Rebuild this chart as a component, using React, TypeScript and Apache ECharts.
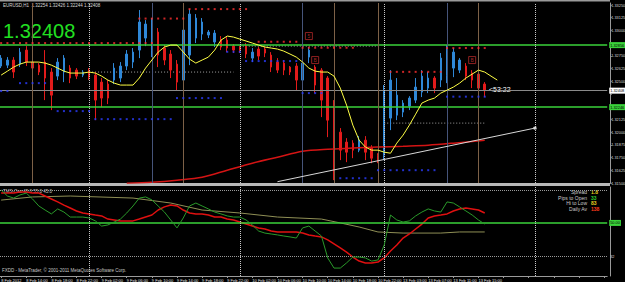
import React, { useEffect, useRef } from "react";
import * as echarts from "echarts";

// ---------- data ----------
const timeLabels = [
  "8 Feb 2012", "8 Feb 14:00", "8 Feb 18:00", "8 Feb 22:00", "9 Feb 02:00",
  "9 Feb 06:00", "9 Feb 10:00", "9 Feb 14:00", "9 Feb 18:00", "9 Feb 22:00",
  "10 Feb 02:00", "10 Feb 06:00", "10 Feb 10:00", "10 Feb 14:00", "10 Feb 18:00",
  "10 Feb 22:00", "13 Feb 03:00", "13 Feb 07:00", "13 Feb 11:00", "13 Feb 15:00",
];
const BAR_SLOTS = 97;

const opens = [
  1.3265, 1.32659, 1.32709, 1.32669, 1.32807, 1.32689, 1.32659, 1.32689, 1.32591, 1.32551,
  1.32591, 1.3263, 1.3261, 1.32561, 1.3261, 1.32561, 1.32492, 1.32473, 1.32512, 1.32532,
  1.3265, 1.32689, 1.32807, 1.32925, 1.32807, 1.32984, 1.32827, 1.32768, 1.32669, 1.32512,
  1.32758, 1.32925, 1.32964, 1.32955, 1.32886, 1.32905, 1.32905, 1.32846, 1.32837, 1.32846,
  1.32728, 1.32817, 1.32817, 1.32758, 1.32689, 1.32679, 1.3264, 1.3265, 1.32512, 1.32738,
  1.3264, 1.3261, 1.32532, 1.32266, 1.32, 1.31902, 1.31892, 1.31823, 1.31921, 1.31843,
  1.31774, 1.31774, 1.32138, 1.32167, 1.32197, 1.32256, 1.32315, 1.32394, 1.32433, 1.32532,
  1.32512, 1.32561, 1.3263, 1.3261, 1.3265, 1.32581, 1.32571, 1.32473,
];
const closes = [
  1.32728, 1.32709, 1.32591, 1.32787, 1.32689, 1.3263, 1.32591, 1.32532, 1.32364, 1.32689,
  1.32728, 1.32532, 1.32551, 1.32591, 1.32541, 1.32315, 1.32335, 1.32335, 1.3263, 1.3265,
  1.32768, 1.32787, 1.33083, 1.33063, 1.33083, 1.32758, 1.32709, 1.3261, 1.32492, 1.33004,
  1.33161, 1.33122, 1.33083, 1.32984, 1.32974, 1.32837, 1.32827, 1.32807, 1.32807, 1.32768,
  1.32787, 1.32748, 1.32778, 1.3264, 1.3261, 1.3261, 1.32591, 1.32512, 1.32679, 1.32807,
  1.32463, 1.32315, 1.32118, 1.31823, 1.31823, 1.31803, 1.31823, 1.31921, 1.31803, 1.31744,
  1.31725, 1.32413, 1.32512, 1.32364, 1.32286, 1.32335, 1.32443, 1.32551, 1.32532, 1.32433,
  1.32728, 1.32807, 1.32787, 1.32709, 1.32551, 1.32512, 1.32433, 1.32408,
];
const lows = [
  1.3263, 1.3263, 1.32532, 1.3264, 1.3265, 1.326, 1.32561, 1.32315, 1.32217, 1.32512,
  1.32492, 1.32482, 1.32522, 1.32541, 1.32512, 1.32118, 1.32246, 1.32276, 1.32473, 1.32492,
  1.3261, 1.3263, 1.32728, 1.32846, 1.32738, 1.3264, 1.32659, 1.32532, 1.32413, 1.32394,
  1.32659, 1.32876, 1.32905, 1.32925, 1.32837, 1.32807, 1.32787, 1.32778, 1.32778, 1.32728,
  1.32689, 1.32709, 1.32738, 1.32591, 1.32581, 1.32561, 1.32561, 1.32413, 1.32394, 1.32679,
  1.32384, 1.32148, 1.31951, 1.31528, 1.31725, 1.31705, 1.31744, 1.31803, 1.31725, 1.31695,
  1.31695, 1.31725, 1.3202, 1.32118, 1.32148, 1.32217, 1.32286, 1.32345, 1.32384, 1.32384,
  1.32443, 1.32482, 1.32541, 1.32581, 1.32512, 1.32433, 1.32315, 1.32345,
];
const highs = [
  1.32758, 1.32738, 1.32738, 1.32827, 1.32846, 1.32709, 1.32679, 1.32807, 1.3263, 1.32728,
  1.32758, 1.32659, 1.3263, 1.3261, 1.3263, 1.32591, 1.32532, 1.32512, 1.32679, 1.32689,
  1.32807, 1.32827, 1.33201, 1.33102, 1.33122, 1.33024, 1.32856, 1.32807, 1.32709, 1.33083,
  1.3321, 1.33161, 1.33122, 1.33004, 1.33004, 1.32945, 1.32935, 1.32866, 1.32846, 1.32876,
  1.32827, 1.32837, 1.32837, 1.32787, 1.32728, 1.32709, 1.3265, 1.32679, 1.32709, 1.32837,
  1.32659, 1.3263, 1.32551, 1.32315, 1.3204, 1.31941, 1.31921, 1.31961, 1.31961, 1.31872,
  1.31793, 1.32463, 1.3261, 1.32532, 1.32315, 1.32354, 1.32532, 1.3261, 1.32591, 1.32551,
  1.32778, 1.32856, 1.32827, 1.32728, 1.32679, 1.3261, 1.3261, 1.32492,
];

const yellowMA = [
  1.32561, 1.326, 1.3264, 1.32669, 1.32689, 1.32689, 1.32689, 1.32679, 1.32659, 1.3263,
  1.326, 1.32581, 1.32581, 1.32581, 1.32591, 1.32581, 1.32551, 1.32512, 1.32482, 1.32463,
  1.32463, 1.32463, 1.32532, 1.3263, 1.32709, 1.32787, 1.32837, 1.32856, 1.32856, 1.32787,
  1.32718, 1.32679, 1.32709, 1.32738, 1.32807, 1.32905, 1.32945, 1.32935, 1.32915, 1.32896,
  1.32876, 1.32856, 1.32837, 1.32827, 1.32817, 1.32797, 1.32768, 1.32738, 1.32689, 1.3263,
  1.326, 1.32591, 1.32591, 1.32551, 1.32433, 1.32266, 1.32069, 1.31921, 1.31853, 1.31823,
  1.31823, 1.31803, 1.31793, 1.31892, 1.31971, 1.32069, 1.32177, 1.32286, 1.32315, 1.32335,
  1.32384, 1.32413, 1.32443, 1.32482, 1.32532, 1.32571, 1.3261, 1.32591, 1.32551, 1.32512,
];
const redMA = [
  [20, 1.31498], [24, 1.31508], [28, 1.31528], [32, 1.31557], [36, 1.31626], [40, 1.31695],
  [44, 1.31754], [48, 1.31813], [52, 1.31833], [56, 1.31843], [60, 1.31853], [64, 1.31862],
  [68, 1.31872], [72, 1.31892], [77, 1.31921],
];
// [fromBar, toBar, price]
const resistanceDots = [
  [0, 24, 1.32876], [22, 29, 1.33117], [30, 39, 1.3321], [41, 47, 1.32889],
  [48, 56, 1.3283], [62, 70, 1.32593], [71, 77, 1.32827],
];
const supportDots = [
  [0, 1, 1.32404], [3, 7, 1.32482], [9, 14, 1.32207], [15, 27, 1.32128], [28, 35, 1.32335],
  [36, 38, 1.3279], [39, 47, 1.32699], [48, 51, 1.32384], [54, 59, 1.31547], [60, 69, 1.31626],
  [71, 77, 1.32349],
];
const dottedLevels = [[14, 37, 1.32591], [38, 60, 1.32846], [61, 77, 1.32089]];
const trendLine = [[44, 1.31513], [85, 1.3204]];
const greenLevels = [1.32856, 1.32246];
const bidPrice = 1.32408;
const periodSeparators = [14, 38, 61, 85];
const brownVerticals = [5, 29, 53, 60, 76];
const blueVerticals = [24, 48, 71];
const signalBoxes = [[49, 1.32945, "5"], [50, 1.32709, "B"], [75, 1.32709, "B"]];

const oscFast = [
  67.9, 64.6, 63.5, 65.2, 66.2, 63.0, 59.2, 57.0, 54.9, 57.6,
  55.9, 53.2, 53.2, 53.2, 52.7, 51.1, 48.3, 48.9, 50.5, 52.1,
  55.4, 59.2, 63.5, 64.1, 62.5, 59.2, 55.9, 51.6, 47.3, 52.7,
  59.2, 60.8, 59.2, 57.6, 55.9, 54.9, 53.8, 53.2, 53.2, 51.6,
  48.9, 45.6, 44.5, 44.0, 43.5, 42.9, 42.4, 41.8, 47.3, 48.3,
  45.6, 42.9, 31.0, 25.5, 25.5, 28.3, 31.5, 31.5, 31.0, 29.3,
  29.9, 38.0, 54.3, 51.6, 50.5, 51.1, 53.8, 55.9, 57.6, 56.5,
  55.9, 61.4, 60.8, 58.7, 56.5, 54.3, 51.6, 49.4,
];
const oscSlow = [
  66.2, 66.2, 66.2, 66.8, 66.8, 66.2, 66.2, 64.6, 63.0, 61.4,
  59.7, 58.1, 56.5, 55.4, 54.9, 54.3, 53.8, 52.1, 51.6, 51.1,
  51.1, 51.1, 52.1, 53.2, 54.3, 57.0, 58.7, 59.7, 59.2, 57.0,
  55.4, 54.9, 54.9, 54.3, 53.2, 53.2, 52.1, 51.6, 50.5, 49.4,
  48.3, 47.3, 46.7, 45.6, 45.1, 45.1, 45.1, 45.1, 44.5, 43.5,
  42.9, 42.4, 40.8, 38.6, 36.4, 34.2, 31.5, 29.3, 28.3, 28.3,
  28.8, 31.0, 34.8, 38.0, 41.8, 44.0, 46.7, 49.4, 52.7, 53.8,
  54.3, 54.9, 56.5, 57.6, 58.1, 57.6, 57.0, 55.4,
];
const oscSignal = [
  [0, 62.4], [5, 64.1], [11, 64.6], [21, 63.5], [27, 60.8], [32, 57.0], [38, 55.4],
  [44, 53.2], [51, 52.1], [54, 50.0], [57, 47.8], [60, 45.1], [64, 44.5], [70, 44.5],
  [73, 45.1], [77, 45.1],
];
const oscMax = 69.5;
const oscMin = 21.2;
const oscDotLevels = [68, 32];
const oscMidLevel = 50;

const infoRows = [
  ["Spread", "1.8", "#e8d020"],
  ["Pips to Open", "33", "#32cd32"],
  ["Hi to Low", "83", "#e8d020"],
  ["Daily Av", "138", "#ff3a1a"],
];

// ---------- styling ----------
const FONT = "'Liberation Sans', Arial, sans-serif";
const BULL = "#2f88d8";
const BEAR = "#e31b1b";
const AXIS_FS = 3.9;

const expand = (segs: number[][]) =>
  segs.flatMap(([a, b, p]) => Array.from({ length: b - a + 1 }, (_, k) => [a + k, p]));

function buildOption() {
  const cats = Array.from({ length: BAR_SLOTS }, (_, i) => String(i));
  const candleData = opens.map((o, i) => [o, closes[i], lows[i], highs[i]]);
  const boxedPrices = [...greenLevels, bidPrice];

  const vLine = (i: number, color: string, type: string) => ({
    xAxis: i,
    lineStyle: { color, width: 1, type },
    label: { show: false },
  });
  const boxLabel = (text: string, bg: string) => ({
    show: true, position: "end", distance: 2, formatter: text,
    backgroundColor: bg, color: "#000", fontSize: AXIS_FS, fontFamily: FONT, padding: [1, 1],
  });

  const mainMarkLines: any[] = [
    ...greenLevels.map((p) => ({
      yAxis: p,
      lineStyle: { color: "#3ad23a", width: 1.5, type: "solid" },
      label: boxLabel(p.toFixed(5), "#3ad23a"),
    })),
    {
      yAxis: bidPrice,
      lineStyle: { color: "#8a8a8a", width: 1, type: "solid" },
      label: boxLabel(bidPrice.toFixed(5), "#ffffff"),
    },
    ...periodSeparators.map((i) => vLine(i, "#c8c8c8", "dotted")),
    ...brownVerticals.map((i) => vLine(i, "#7d6147", "solid")),
    ...blueVerticals.map((i) => vLine(i, "#46547a", "solid")),
    [
      { coord: [trendLine[0][0], trendLine[0][1]], lineStyle: { color: "#d8d8d8", width: 1, type: "solid" }, label: { show: false } },
      { coord: [trendLine[1][0], trendLine[1][1]], symbol: "rect", symbolSize: 3 },
    ],
  ];

  const plainLabel = (text: string) => ({
    show: true, position: "end", distance: 3, formatter: text, color: "#d8d8d8", fontSize: AXIS_FS, fontFamily: FONT,
  });
  const oscMarkLines: any[] = [
    ...oscDotLevels.map((v) => ({
      yAxis: v,
      lineStyle: { color: "#9a9a9a", width: 1, type: "dotted" },
      label: v === 32 ? plainLabel("32") : { show: false },
    })),
    {
      yAxis: oscMidLevel,
      lineStyle: { color: "#3ad23a", width: 1.5, type: "solid" },
      label: boxLabel("50.00", "#3ad23a"),
    },
    // axis extremes written at the panel's top and bottom
    { yAxis: oscMax - 1.3, lineStyle: { opacity: 0 }, label: plainLabel(String(oscMax)) },
    { yAxis: oscMin + 1.6, lineStyle: { opacity: 0 }, label: plainLabel(String(oscMin)) },
    ...periodSeparators.map((i) => vLine(i, "#c8c8c8", "dotted")),
  ];

  const graphicTexts: any[] = [
    { type: "rect", shape: { x: 0, y: 0, width: 610, height: 1.5 }, style: { fill: "#9a9a9a" }, silent: true },
    { type: "rect", shape: { x: 0, y: 183, width: 610, height: 3 }, style: { fill: "#b8b8b8" }, silent: true },
    {
      type: "text", x: 3, y: 3,
      style: { text: "EURUSD,H1  1.32254 1.32426 1.32244 1.32408", fill: "#d8d8d8", fontSize: 4.5, fontFamily: FONT },
    },
    {
      type: "text", x: 3, y: 21,
      style: { text: "1.32408", fill: "#22e022", fontSize: 20, fontFamily: FONT },
    },
    {
      type: "text", x: 489, y: 86,
      style: { text: "<53:22", fill: "#ffffff", fontSize: 7, fontFamily: FONT },
    },
    {
      type: "text", x: 3, y: 189,
      style: { text: "TMS-Osc 45.0 55.0 45.0", fill: "#c8c8c8", fontSize: 4.5, fontFamily: FONT },
    },
    {
      type: "text", x: 2, y: 268,
      style: { text: "FXDD - MetaTrader, © 2001-2011 MetaQuotes Software Corp.", fill: "#c8c8c8", fontSize: 4.5, fontFamily: FONT },
    },
    ...infoRows.flatMap(([name, val, color], k) => [
      {
        type: "text", x: 587, y: 189.5 + k * 5.7,
        style: { text: name, fill: "#c8c8c8", fontSize: 5, fontFamily: FONT, align: "right" },
      },
      {
        type: "text", x: 591, y: 189.5 + k * 5.7,
        style: { text: val, fill: color, fontSize: 5, fontFamily: FONT, fontWeight: "bold" },
      },
    ]),
  ];

  return {
    animation: false,
    backgroundColor: "#000000",
    grid: [
      { left: -2, top: 3, width: 609.2, height: 180, outerBoundsMode: "none", containLabel: false },
      { left: -2, top: 187, width: 609.2, height: 89, outerBoundsMode: "none", containLabel: false },
    ],
    xAxis: [
      {
        type: "category", gridIndex: 0, data: cats, boundaryGap: true,
        axisLine: { show: false }, axisTick: { show: false }, axisLabel: { show: false }, splitLine: { show: false },
      },
      {
        type: "category", gridIndex: 1, data: cats, boundaryGap: true,
        axisLine: { show: true, lineStyle: { color: "#9a9a9a", width: 1 } },
        axisTick: { show: true, alignWithLabel: true, interval: (i: number) => i % 4 === 0, length: 2, lineStyle: { color: "#9a9a9a" } },
        axisLabel: {
          interval: (i: number) => i % 4 === 0,
          formatter: (_v: string, i: number) => timeLabels[i / 4] ?? "",
          color: "#e0e0e0", fontSize: 4, fontFamily: FONT, align: "left", margin: 2, hideOverlap: false,
        },
        splitLine: { show: false },
      },
    ],
    yAxis: [
      {
        type: "value", gridIndex: 0, position: "right", offset: 3,
        min: 1.315, max: 1.3327, interval: 0.00125,
        axisLine: { show: true, lineStyle: { color: "#9a9a9a" } },
        axisTick: { show: true, length: 1.5, lineStyle: { color: "#9a9a9a" } },
        axisLabel: {
          color: "#d8d8d8", fontSize: AXIS_FS, fontFamily: FONT, margin: 1, showMaxLabel: false,
          // the boxed level labels cover the scale labels next to them
          formatter: (v: number) => (boxedPrices.some((p) => Math.abs(p - v) < 0.0005) ? "" : v.toFixed(5)),
        },
        splitLine: { show: false },
      },
      {
        type: "value", gridIndex: 1, position: "right", offset: 3,
        min: oscMin, max: oscMax,
        axisLine: { show: true, lineStyle: { color: "#9a9a9a" } },
        axisTick: { show: false }, axisLabel: { show: false }, splitLine: { show: false },
      },
    ],
    series: [
      ...dottedLevels.map(([a, b, p]) => ({
        type: "line", xAxisIndex: 0, yAxisIndex: 0, data: [[a, p], [b, p]], showSymbol: false, silent: true,
        lineStyle: { color: "#a0a0a0", width: 1, type: [1, 2] }, z: 2,
      })),
      {
        type: "candlestick", xAxisIndex: 0, yAxisIndex: 0, data: candleData, barWidth: 2,
        itemStyle: { color: BULL, color0: BEAR, borderColor: BULL, borderColor0: BEAR, borderWidth: 1 },
        z: 3,
      },
      {
        type: "line", xAxisIndex: 0, yAxisIndex: 0, data: redMA, showSymbol: false, smooth: 0.3, silent: true,
        lineStyle: { color: "#d41414", width: 1.5 }, z: 4,
      },
      {
        type: "line", xAxisIndex: 0, yAxisIndex: 0, data: yellowMA, showSymbol: false, silent: true,
        lineStyle: { color: "#ffff44", width: 1 }, z: 5,
        markLine: { silent: true, precision: 6, symbol: ["none", "none"], data: mainMarkLines, animation: false },
      },
      {
        type: "scatter", xAxisIndex: 0, yAxisIndex: 0, data: expand(resistanceDots), symbol: "rect", symbolSize: 2,
        itemStyle: { color: "#ff3030" }, silent: true, z: 6,
      },
      {
        type: "scatter", xAxisIndex: 0, yAxisIndex: 0, data: expand(supportDots), symbol: "rect", symbolSize: 2,
        itemStyle: { color: "#2a3cff" }, silent: true, z: 6,
      },
      {
        type: "scatter", xAxisIndex: 0, yAxisIndex: 0, data: signalBoxes, symbol: "rect", symbolSize: 7,
        itemStyle: { color: "rgba(0,0,0,0)", borderColor: "#b02828", borderWidth: 1 }, silent: true, z: 7,
        label: {
          show: true, position: "inside", formatter: (p: any) => p.data[2],
          color: "#c83030", fontSize: 5, fontFamily: FONT,
        },
      },
      {
        type: "line", xAxisIndex: 1, yAxisIndex: 1, data: oscSignal, showSymbol: false, silent: true,
        lineStyle: { color: "#8f8f55", width: 1 }, z: 3,
      },
      {
        type: "line", xAxisIndex: 1, yAxisIndex: 1, data: oscSlow, showSymbol: false, silent: true,
        lineStyle: { color: "#e01010", width: 1.5 }, z: 4,
        markLine: { silent: true, precision: 3, symbol: ["none", "none"], data: oscMarkLines, animation: false },
      },
      {
        type: "line", xAxisIndex: 1, yAxisIndex: 1, data: oscFast, showSymbol: false, silent: true,
        lineStyle: { color: "#2a9a2a", width: 1 }, z: 5,
      },
    ],
    graphic: { elements: graphicTexts },
  };
}

export default function App() {
  const ref = useRef<HTMLDivElement>(null);
  useEffect(() => {
    if (!ref.current) return;
    const chart = echarts.init(ref.current, null, { renderer: "svg" });
    chart.setOption(buildOption() as any);
    return () => chart.dispose();
  }, []);
  return (
    <div
      ref={ref}
      style={{ position: "fixed", left: 0, top: 0, width: 625, height: 282, background: "#000" }}
    />
  );
}
